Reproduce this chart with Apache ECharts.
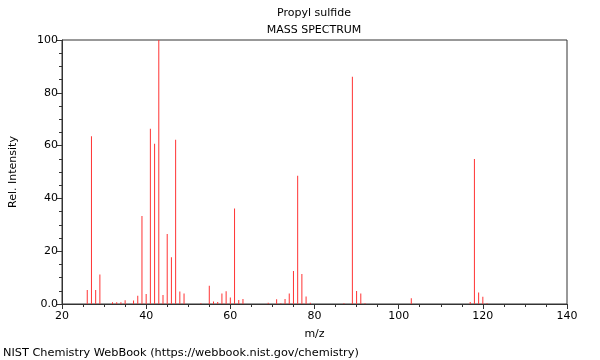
<!DOCTYPE html>
<html><head><meta charset="utf-8">
<script src="https://cdn.jsdelivr.net/npm/echarts@6/dist/echarts.min.js"></script>
<style>html,body{margin:0;padding:0;background:#fff}#c{width:600px;height:360px}</style>
</head><body><div id="c"></div>
<script>
const mz = [26,27,28,29,32,33,34,35,37,38,39,40,41,42,43,44,45,46,47,48,49,
  53,55,56,57,58,59,60,61,62,63,69,71,72,73,74,75,76,77,78,79,87,89,90,91,92,103,117,118,119,120,121];
const intensity = [5.3,63.5,5.3,11.2,0.7,0.7,0.7,1.4,1.3,3.1,33.3,3.8,66.4,60.7,100,3.4,26.5,17.7,62.2,4.7,4.0,
  0.3,6.9,0.9,0.8,4.0,4.8,2.5,36.2,1.5,1.9,0.5,1.8,0.3,1.9,4.0,12.5,48.6,11.4,2.8,0.5,0.3,86.1,4.9,4.0,0.3,2.2,0.8,54.9,4.4,2.7,0.3];
const xTicks = [20,40,60,80,100,120,140];
const yTicks = [0,20,40,60,80,100];
const titleLines = ['Propyl sulfide','MASS SPECTRUM'];
const footer = 'NIST Chemistry WebBook (https://webbook.nist.gov/chemistry)';

const font = 'DejaVu Sans';
const chart = echarts.init(document.getElementById('c'), null, {renderer:'canvas'});
chart.setOption({
  animation:false,
  textStyle:{fontFamily:font},
  title:[
    {text:titleLines[0], left:314, top:8, padding:0, textAlign:'center', textStyle:{fontFamily:font,fontSize:11,fontWeight:'normal',color:'#000'}},
    {text:titleLines[1], left:314, top:25, padding:0, textAlign:'center', textStyle:{fontFamily:font,fontSize:11,fontWeight:'normal',color:'#000'}},
    {text:footer, left:3, top:348, padding:0, textStyle:{fontFamily:font,fontSize:11.3,fontWeight:'normal',color:'#000'}}
  ],
  grid:{left:62,right:33,top:40,bottom:56,show:true,borderColor:'#333',borderWidth:1,backgroundColor:'transparent'},
  xAxis:{type:'value',min:xTicks[0],max:xTicks[xTicks.length-1],interval:20,
    name:'m/z',nameLocation:'middle',nameGap:25,nameTextStyle:{fontFamily:font,fontSize:11,color:'#000'},
    axisLine:{lineStyle:{color:'#333'}},
    axisTick:{show:true,length:5,lineStyle:{color:'#333'}},
    minorTick:{show:true,splitNumber:4,length:3,lineStyle:{color:'#333'}},
    splitLine:{show:false},
    axisLabel:{fontFamily:font,fontSize:11,color:'#000',margin:7}},
  yAxis:{type:'value',min:yTicks[0],max:yTicks[yTicks.length-1],interval:20,
    name:'Rel. Intensity',nameLocation:'middle',nameGap:43,nameRotate:90,nameTextStyle:{fontFamily:font,fontSize:11,color:'#000'},
    axisLine:{show:true,lineStyle:{color:'#333'}},
    axisTick:{show:true,length:5,lineStyle:{color:'#333'}},
    minorTick:{show:true,splitNumber:4,length:3,lineStyle:{color:'#333'}},
    splitLine:{show:false},
    axisLabel:{fontFamily:font,fontSize:11,color:'#000',margin:4,formatter:v=>v===0?'0.0':String(v)}},
  series:[{type:'bar',barWidth:1,barGap:'-100%',itemStyle:{color:'#ff3333'},
    data:mz.map((m,i)=>[m,intensity[i]])}]
});
</script></body></html>
